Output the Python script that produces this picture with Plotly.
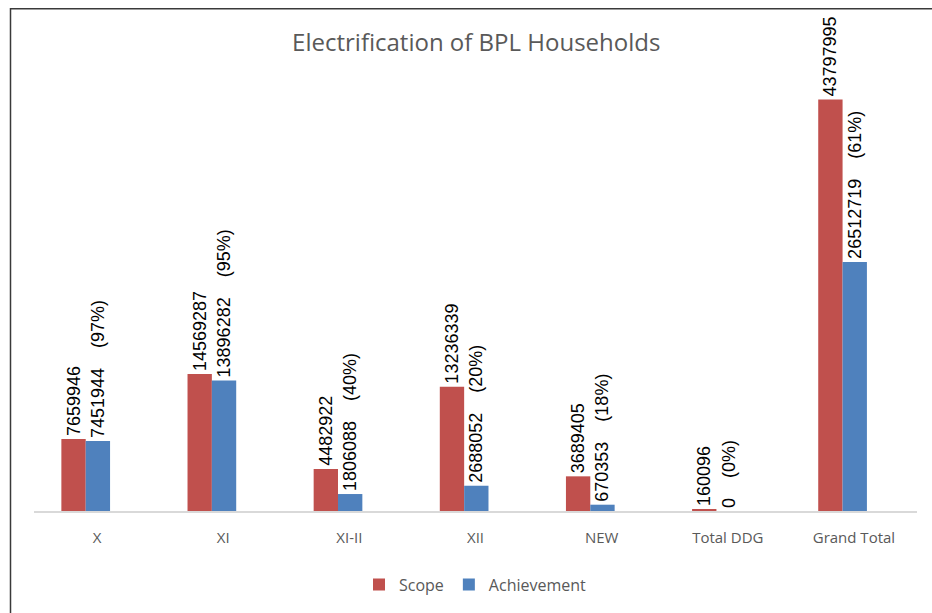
import plotly.graph_objects as go

categories = ["X", "XI", "XI-II", "XII", "NEW", "Total DDG", "Grand Total"]
scope = [7659946, 14569287, 4482922, 13236339, 3689405, 160096, 43797995]
achievement = [7451944, 13896282, 1806088, 2688052, 670353, 0, 26512719]
percent = ["97%", "95%", "40%", "20%", "18%", "0%", "61%"]

sp = "\u00a0" * 4
scope_text = [str(v) for v in scope]
ach_text = [f"{v}{sp}({p})" for v, p in zip(achievement, percent)]

FONT = "Liberation Sans"
BW = 0.193      # bar width in category units
SHIFT = 0.09    # clusters sit slightly left of the category centre

fig = go.Figure()
fig.add_trace(go.Bar(
    x=categories, y=scope, name="Scope", marker=dict(color="#C0504D", line=dict(width=0)),
    width=BW, offset=-BW - SHIFT,
    text=scope_text, textposition="outside", textangle=-90, constraintext="none",
    cliponaxis=False, textfont=dict(family=FONT, size=18, color="#000000"),
))
fig.add_trace(go.Bar(
    x=categories, y=achievement, name="Achievement", marker=dict(color="#4F81BD", line=dict(width=0)),
    width=BW, offset=-SHIFT,
    text=ach_text, textposition="outside", textangle=-90, constraintext="none",
    cliponaxis=False, textfont=dict(family=FONT, size=18, color="#000000"),
))

fig.update_layout(
    width=932, height=613,
    margin=dict(l=34, r=15, t=60, b=99),
    paper_bgcolor="white", plot_bgcolor="white",
    barmode="group",
    title=dict(text="Electrification of BPL Households", x=0.511, xanchor="center",
               y=0.931, yanchor="middle",
               font=dict(family="Open Sans", size=24, color="#595959")),
    showlegend=True,
    legend=dict(orientation="h", x=0.5, xanchor="center", y=-0.163, yanchor="middle",
                font=dict(family="Open Sans", size=16, color="#595959"),
                itemwidth=30, traceorder="normal"),
    font=dict(family="Open Sans", color="#595959"),
)
fig.update_xaxes(showline=True, linecolor="#D9D9D9", linewidth=1.5, showgrid=False,
                 range=[-0.5, 6.5],
                 ticks="outside", ticklen=12, tickcolor="rgba(0,0,0,0)",
                 tickfont=dict(family="Open Sans", size=15, color="#595959"))
fig.update_yaxes(range=[0, 48000000], visible=False, showgrid=False)

# chart frame
fig.add_shape(type="rect", xref="paper", yref="paper",
              x0=(10.5 - 34) / 883, x1=1.2, y0=-0.4, y1=(514 - 8.5) / 454,
              line=dict(color="#3a3a3a", width=1.5), fillcolor="rgba(0,0,0,0)")

fig.write_html("out.html", config={"displayModeBar": False},
               post_script="document.body.style.margin='0';")
